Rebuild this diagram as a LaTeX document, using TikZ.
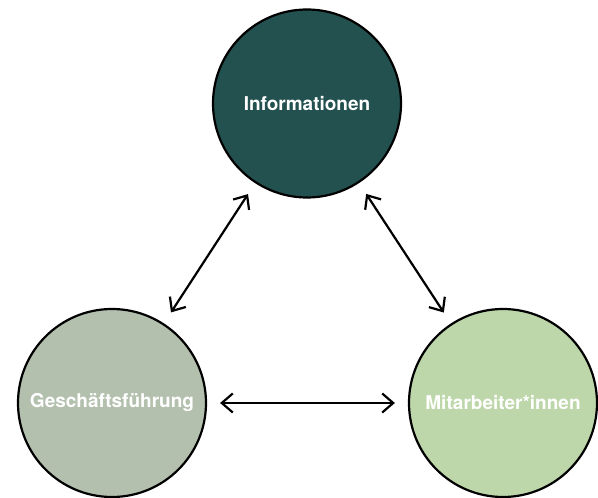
\documentclass[tikz,border=0pt]{standalone}
\usepackage{fontspec}
\setmainfont{TeX Gyre Heros}
\usetikzlibrary{arrows.meta}
\definecolor{infoteal}{HTML}{235150}
\definecolor{gfgrey}{HTML}{B4C0AE}
\definecolor{magreen}{HTML}{BDD7AA}

\begin{document}
\begin{tikzpicture}[x=1pt,y=1pt,
    ring/.style={circle,draw=black,line width=2.2pt,minimum size=188pt,inner sep=0pt,
        text=white,font=\fontsize{19}{23}\selectfont\bfseries},
    link/.style={{Straight Barb[length=11pt,width=19pt]}-{Straight Barb[length=11pt,width=19pt]},
        line width=2.2pt,shorten <=13pt,shorten >=13pt}]
    \useasboundingbox (0,0) rectangle (598,498);

    % the three circles
    \node[ring,fill=infoteal] (info) at (307,394.5) {Informationen};
    \node[ring,fill=gfgrey] (gf) at (112,95) {Geschäftsführung};
    \node[ring,fill=magreen] (ma) at (503,95) {Mitarbeiter*innen};

    % double arrows between them
    \draw[link] (info) -- (gf);
    \draw[link] (info) -- (ma);
    \draw[link] (gf) -- (ma);
\end{tikzpicture}
\end{document}
